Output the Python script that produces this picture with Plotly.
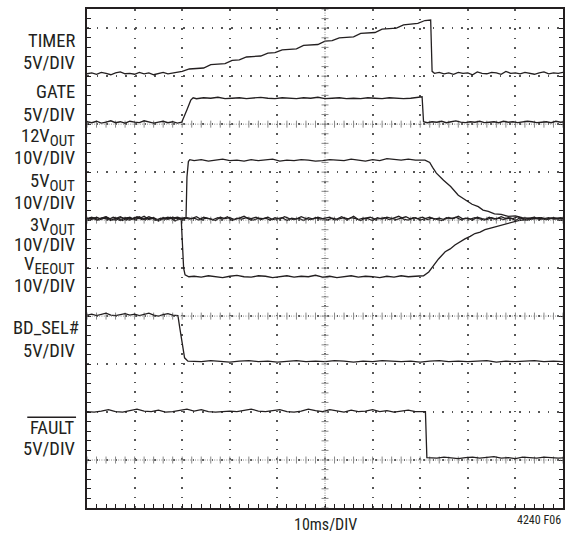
import plotly.graph_objects as go

# Scope capture: time in ms (10 ms/div), level in screen divisions (0 = bottom graticule)
INK = '#231f20'

# --- TIMER ---
timer_pre = [9.05, 9.07, 9.04, 9.08, 9.06, 9.03, 9.07, 9.09, 9.05, 9.06,
             9.04, 9.08, 9.05, 9.07, 9.03, 9.06, 9.08, 9.05, 9.07, 9.09]          # 0..19 ms, 1 ms
timer_ramp = [9.10, 9.15, 9.16, 9.17, 9.24, 9.25, 9.26, 9.33, 9.34, 9.40,
              9.41, 9.42, 9.48, 9.49, 9.55, 9.56, 9.57, 9.64, 9.65, 9.66,
              9.73, 9.74, 9.80, 9.81, 9.82, 9.89, 9.90, 9.91, 9.98, 9.99,
              10.00, 10.07, 10.08, 10.10, 10.16]                                  # 20..71 ms, 1.5 ms
timer_edge_t = [72.2, 72.5]
timer_edge_v = [10.17, 9.10]
timer_post = [9.06, 9.08, 9.05, 9.07, 9.04, 9.08, 9.06, 9.07, 9.03, 9.09,
              9.06, 9.05, 9.08, 9.07, 9.04, 9.10, 9.06, 9.07, 9.05, 9.08,
              9.06, 9.04, 9.07, 9.09, 9.05, 9.07, 9.06, 9.08]                     # 73..100 ms, 1 ms

# --- GATE ---
gate_pre = [8.05, 8.03, 8.06, 8.02, 8.04, 8.07, 8.03, 8.05, 8.02, 8.06,
            8.04, 8.03, 8.07, 8.05, 8.02, 8.04, 8.06, 8.03, 8.05, 8.02]           # 0..19 ms
gate_rise_t = [19.9, 21.0, 21.8, 22.3]
gate_rise_v = [8.04, 8.30, 8.50, 8.55]
gate_high = [8.53, 8.55, 8.54, 8.56, 8.53, 8.54, 8.55, 8.53, 8.54, 8.56,
             8.54, 8.53, 8.55, 8.54, 8.53, 8.55, 8.54, 8.56, 8.53, 8.54,
             8.55, 8.53, 8.54, 8.53, 8.55, 8.54, 8.53, 8.55, 8.54, 8.53,
             8.54, 8.56]                                                          # 23..69.5 ms, 1.5 ms
gate_fall_t = [70.4, 70.7]
gate_fall_v = [8.57, 8.05]
gate_post = [8.03, 8.05, 8.04, 8.06, 8.03, 8.05, 8.07, 8.04, 8.03, 8.05,
             8.04, 8.06, 8.03, 8.04, 8.05, 8.03, 8.06, 8.04, 8.05, 8.03,
             8.04, 8.06, 8.05, 8.03, 8.04, 8.05, 8.03, 8.06, 8.04, 8.05]          # 71.5.. ms, 1 ms

# --- 12V OUT ---
v12_pre = [6.03, 6.06, 6.01, 6.04, 6.07, 6.02, 6.00, 6.05, 6.03, 6.06,
           6.01, 6.04, 6.02, 6.07, 6.03, 5.99, 6.05, 6.02, 6.04, 6.06, 6.03]      # 0..20 ms
v12_rise_t = [20.8, 21.0, 21.3, 21.6]
v12_rise_v = [6.04, 6.90, 7.22, 7.26]
v12_high = [7.24, 7.26, 7.23, 7.25, 7.27, 7.24, 7.25, 7.23, 7.26, 7.24,
            7.25, 7.27, 7.23, 7.25, 7.24, 7.26, 7.25, 7.23, 7.24, 7.26,
            7.25, 7.24, 7.27, 7.25, 7.23, 7.26, 7.24, 7.28, 7.26, 7.25,
            7.27, 7.25]                                                           # 22.5..69 ms, 1.5 ms
v12_decay_t = [71.0, 72.0, 72.6, 73.4, 74.9, 76.4, 78.0, 79.7, 80.9, 82.2,
               83.2, 84.3, 85.6, 87.0, 88.5, 90.0, 91.4, 92.7]
v12_decay_v = [7.25, 7.20, 7.10, 6.98, 6.83, 6.70, 6.52, 6.41, 6.33, 6.28,
               6.21, 6.18, 6.13, 6.12, 6.08, 6.09, 6.05, 6.04]
v12_post = [6.03, 6.05, 6.02, 6.04, 6.03, 6.05]                                   # 93.5.. ms, 1.5 ms

# --- 5V OUT / 3V OUT (sit on the centre line) ---
v5_out = [6.04, 6.01, 6.06, 6.02, 6.05, 5.99, 6.03, 6.07, 6.02, 6.00, 6.05, 6.03, 6.08, 6.01, 6.04, 5.98, 6.03, 6.06, 6.02, 6.04,
          6.00, 6.05, 6.03, 6.07, 6.01, 6.04, 6.02, 5.99, 6.06, 6.03, 6.05, 6.01, 6.04, 6.08, 6.02, 6.00, 6.04, 6.03, 6.06, 6.01,
          6.03, 6.05, 5.99, 6.04, 6.02, 6.07, 6.03, 6.01, 6.05, 6.02, 6.04, 6.06, 6.00, 6.03, 6.05, 6.02, 6.08, 6.01, 6.04, 6.03,
          5.99, 6.05, 6.02, 6.06, 6.03, 6.01, 6.04, 6.07, 6.02, 6.05, 6.00, 6.03, 6.06, 6.02, 6.04, 6.01, 6.05, 6.03, 6.08, 6.02,
          6.04, 6.00, 6.06, 6.03, 6.01, 6.05, 6.02, 6.07, 6.03, 6.04, 5.99, 6.05, 6.02, 6.04, 6.06, 6.01, 6.03, 6.05, 6.02, 6.04, 6.03]
v3_out = [6.02, 6.05, 6.00, 6.04, 6.01, 6.06, 6.03, 5.99, 6.05, 6.02, 6.07, 6.01, 6.03, 6.05, 6.00, 6.04, 6.02, 6.06, 5.98, 6.03,
          6.05, 6.02, 6.04, 6.00, 6.06, 6.03, 6.01, 6.05, 6.02, 6.07, 5.99, 6.04, 6.02, 6.05, 6.03, 6.06, 6.01, 6.04, 6.00, 6.05,
          6.02, 6.07, 6.03, 6.01, 6.04, 5.99, 6.05, 6.02, 6.06, 6.03, 6.00, 6.04, 6.02, 6.07, 6.01, 6.05, 6.03, 5.99, 6.04, 6.06,
          6.02, 6.03, 6.05, 6.01, 6.04, 6.08, 6.02, 6.00, 6.05, 6.03, 6.06, 6.01, 6.04, 6.02, 5.99, 6.05, 6.03, 6.06, 6.01, 6.04,
          6.02, 6.05, 6.03, 6.00, 6.06, 6.02, 6.04, 6.01, 6.05, 6.03, 6.07, 6.02, 6.00, 6.04, 6.03, 6.05, 6.01, 6.04, 6.02, 6.05, 6.03]

# --- VEE OUT ---
vee_pre = [6.02, 6.05, 6.00, 6.04, 6.06, 6.01, 6.03, 5.99, 6.05, 6.02,
           6.04, 6.07, 6.01, 6.03, 6.05, 6.00, 6.04, 6.02, 6.06, 6.03]           # 0..19 ms
vee_fall_t = [19.8, 20.0, 20.3, 20.6, 21.4]
vee_fall_v = [6.02, 5.60, 5.00, 4.86, 4.82]
vee_low = [4.83, 4.81, 4.84, 4.82, 4.80, 4.83, 4.85, 4.82, 4.81, 4.84,
           4.83, 4.80, 4.82, 4.84, 4.81, 4.83, 4.82, 4.85, 4.81, 4.83,
           4.80, 4.82, 4.84, 4.81, 4.83, 4.82, 4.80, 4.83, 4.81, 4.84,
           4.82, 4.83]                                                            # 22.5..69 ms, 1.5 ms
vee_rise_t = [70.7, 71.8, 72.8, 73.85, 75.25, 76.3, 77.3, 78.4, 79.4, 80.5,
              81.5, 82.6, 83.6, 84.6, 85.7, 86.8, 87.8, 89.2, 90.6, 92.7]
vee_rise_v = [4.84, 4.92, 5.06, 5.19, 5.34, 5.40, 5.48, 5.55, 5.61, 5.66,
              5.72, 5.75, 5.80, 5.83, 5.86, 5.89, 5.91, 5.95, 5.99, 6.01]
vee_post = [6.02, 6.04, 6.01, 6.05, 6.02, 6.03]                                   # 93.5.. ms, 1.5 ms

# --- BD_SEL# ---
bd_pre = [4.02, 4.04, 4.01, 4.03, 4.06, 4.02, 4.01, 4.03, 4.05, 4.02,
          4.04, 4.01, 4.03, 4.06, 4.02, 4.00, 4.03, 4.05, 4.02]                  # 0..18 ms
bd_fall_t = [19.1, 19.5, 20.15, 20.5, 21.2]
bd_fall_v = [4.01, 3.75, 3.29, 3.13, 3.06]
bd_low = [3.06, 3.05, 3.07, 3.06, 3.04, 3.06, 3.07, 3.05, 3.06, 3.04,
          3.06, 3.07, 3.05, 3.06, 3.05, 3.07, 3.06, 3.04, 3.06, 3.05,
          3.07, 3.06, 3.05, 3.06, 3.04, 3.06, 3.07, 3.05, 3.06, 3.05,
          3.06, 3.07, 3.04, 3.06, 3.05, 3.06, 3.07, 3.05, 3.06, 3.05]            # 22..100 ms, 2 ms

# --- FAULT ---
fault_high = [2.01, 2.00, 2.02, 2.05, 2.01, 2.00, 2.03, 2.06, 2.02, 2.01,
              2.04, 2.00, 2.01, 2.03, 2.06, 2.02, 2.05, 2.01, 2.00, 2.01,
              2.02, 2.01, 2.04, 2.06, 2.02, 2.01, 2.03, 2.05, 2.01, 2.00,
              2.02, 2.06, 2.03, 2.01, 2.05, 2.02, 2.00, 2.04, 2.01, 2.02,
              2.05, 2.01, 2.03, 2.00, 2.02, 2.04, 2.01, 2.02]                     # 0..70.5 ms, 1.5 ms
fault_fall_t = [71.1, 71.4]
fault_fall_v = [2.01, 1.05]
fault_low = [1.05, 1.04, 1.06, 1.05, 1.03, 1.05, 1.06, 1.04, 1.05, 1.07,
             1.04, 1.05, 1.03, 1.06, 1.05, 1.04, 1.06, 1.05, 1.04, 1.05]          # 72.. ms, 1.5 ms

# channel ground markers (divisions) and labels
ref_levels = [8, 6, 4, 1]
SUB = '<sub><span style="font-size:15px">OUT</span></sub>'
label_text = ['TIMER', '5V/DIV', 'GATE', '5V/DIV',
              '12V' + SUB, '10V/DIV', '5V' + SUB, '10V/DIV',
              '3V' + SUB, '10V/DIV', 'V<sub><span style="font-size:15px">EEOUT</span></sub>', '10V/DIV',
              'BD_SEL#', '5V/DIV', 'FAULT', '5V/DIV']
label_y = [9.73, 9.28, 8.66, 8.20, 7.72, 7.29, 6.79, 6.36,
           5.86, 5.48, 5.05, 4.63, 3.75, 3.27, 1.67, 1.235]


def run(t0, dt, vals):
    return [t0 + i * dt for i in range(len(vals))]


traces = {
    'TIMER': (run(0, 1, timer_pre) + run(20, 1.5, timer_ramp) + timer_edge_t + run(73, 1, timer_post),
              timer_pre + timer_ramp + timer_edge_v + timer_post),
    'GATE': (run(0, 1, gate_pre) + gate_rise_t + run(23, 1.5, gate_high) + gate_fall_t + run(71.5, 1, gate_post),
             gate_pre + gate_rise_v + gate_high + gate_fall_v + gate_post),
    '12VOUT': (run(0, 1, v12_pre) + v12_rise_t + run(22.5, 1.5, v12_high) + v12_decay_t + run(93.5, 1.5, v12_post),
               v12_pre + v12_rise_v + v12_high + v12_decay_v + v12_post),
    '5VOUT': (run(0, 1, v5_out), v5_out),
    '3VOUT': (run(0.5, 1, v3_out), v3_out),
    'VEEOUT': (run(0, 1, vee_pre) + vee_fall_t + run(22.5, 1.5, vee_low) + vee_rise_t + run(93.5, 1.5, vee_post),
               vee_pre + vee_fall_v + vee_low + vee_rise_v + vee_post),
    'BD_SEL#': (run(0, 1, bd_pre) + bd_fall_t + run(22, 2, bd_low),
                bd_pre + bd_fall_v + bd_low),
    'FAULT': (run(0, 1.5, fault_high) + fault_fall_t + run(72, 1.5, fault_low),
              fault_high + fault_fall_v + fault_low),
}

fig = go.Figure()

# graticule decorations: ground marker lines with ticks and the centre vertical
minor_t = [2 * i for i in range(51)]
minor_d = [0.2 * i for i in range(53)]
for lv in ref_levels:
    fig.add_shape(type='line', x0=0, x1=100, y0=lv, y1=lv, xref='x', yref='y',
                  line=dict(color='#8a8a8a', width=1, dash='1px,1.4px'))
    fig.add_trace(go.Scatter(x=minor_t, y=[lv] * len(minor_t), mode='markers',
                             marker=dict(symbol='line-ns', size=5, line=dict(width=1, color='#8a8a8a')),
                             hoverinfo='skip', cliponaxis=False))
fig.add_shape(type='line', x0=50, x1=50, y0=0, y1=10.4, xref='x', yref='y',
              line=dict(color='#8a8a8a', width=1, dash='1px,1.4px'))
fig.add_trace(go.Scatter(x=[50] * len(minor_d), y=minor_d, mode='markers',
                         marker=dict(symbol='line-ew', size=5, line=dict(width=1, color='#8a8a8a')),
                         hoverinfo='skip'))

for name, (t, v) in traces.items():
    fig.add_trace(go.Scatter(x=t, y=v, mode='lines', name=name,
                             line=dict(color=INK, width=1.3), hoverinfo='skip'))

label_font = dict(family='Liberation Sans Narrow, Arial Narrow, Roboto Condensed, Liberation Sans, sans-serif',
                  size=18.5, color=INK)
for txt, yy in zip(label_text, label_y):
    fig.add_annotation(text=txt, xref='paper', yref='y', x=-0.021 if txt != 'BD_SEL#' else -0.012, y=yy,
                       xanchor='right', yanchor='middle', showarrow=False, font=label_font)

# bar over FAULT
fig.add_shape(type='line', xref='paper', yref='y', x0=-0.1255, x1=-0.023, y0=1.89, y1=1.89,
              line=dict(color=INK, width=1.5))

fig.add_annotation(text='10ms/DIV', xref='paper', yref='paper', x=0.5, y=-0.034,
                   xanchor='center', yanchor='middle', showarrow=False,
                   font=dict(family=label_font['family'], size=16, color=INK))
fig.add_annotation(text='4240 F06', xref='paper', yref='paper', x=1.0, y=-0.024,
                   xanchor='right', yanchor='middle', showarrow=False,
                   font=dict(family=label_font['family'], size=12, color=INK))

axis_common = dict(showticklabels=False, zeroline=False, showline=True, linewidth=2, linecolor=INK,
                   ticks='inside', ticklen=4, tickcolor=INK, gridcolor='#555', gridwidth=1.5)
fig.update_xaxes(range=[0, 100], tick0=0, dtick=10, griddash='1.5px,8.06px', mirror=True,
                 minor=dict(dtick=2, ticks='inside', ticklen=4, tickcolor=INK, showgrid=False),
                 **axis_common)
fig.update_yaxes(range=[0, 10.4], tick0=0, dtick=1, griddash='1.5px,8.1px', mirror='ticks',
                 minor=dict(dtick=0.2, ticks='inside', ticklen=4, tickcolor=INK, showgrid=False),
                 **axis_common)

fig.update_layout(width=566, height=533, showlegend=False,
                  margin=dict(l=87, r=1, t=9, b=25),
                  paper_bgcolor='white', plot_bgcolor='white')

# drop the page's default 8px body margin so the figure sits at the window corner
fig.write_html('out.html', config={'displayModeBar': False},
               post_script="document.body.style.margin='0';")
